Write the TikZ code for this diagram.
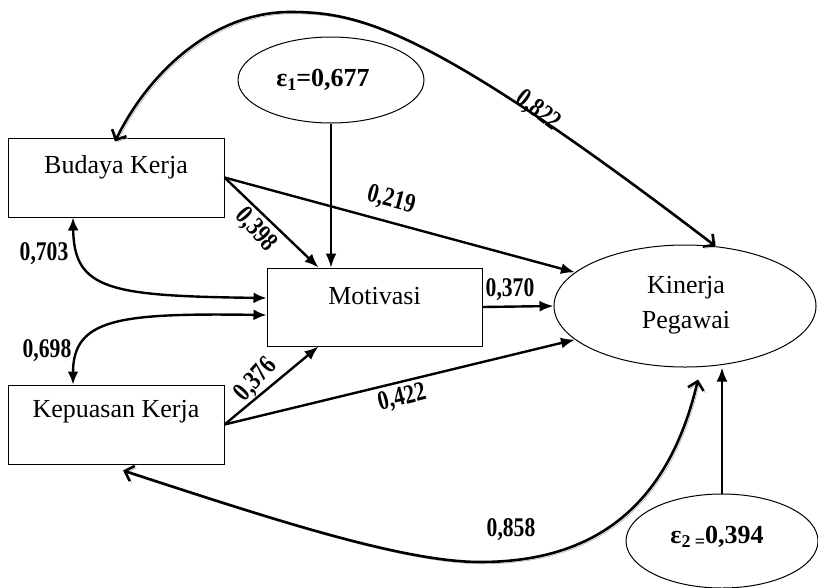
\documentclass[tikz,border=0pt]{standalone}
\usepackage{fontspec}
\setmainfont{Liberation Serif}
\usetikzlibrary{shapes.geometric,arrows.meta,calc}

% condensed bold path coefficient
\newcommand{\coef}[1]{\scalebox{0.8}[1]{\bfseries #1}}
\newcommand{\lowsub}[1]{\raisebox{-4pt}{\fontsize{18}{18}\selectfont #1}}

\begin{document}
\begin{tikzpicture}[x=1pt,y=-1pt,
  box/.style={draw, line width=1pt, minimum width=216pt, minimum height=79pt, inner sep=0pt},
  latent/.style={draw, ellipse, line width=1pt, inner sep=0pt},
  effect/.style={line width=2.4pt, -{Latex[length=14pt,width=11pt]}},
  cov/.style={line width=2.4pt, {Latex[length=13pt,width=11pt]}-{Latex[length=13pt,width=11pt]}},
  longcov/.style={line width=2.6pt, {Straight Barb[length=8pt,width=16pt]}-{Straight Barb[length=8pt,width=16pt]},
    preaction={draw=black!40, transform canvas={shift={(1.8,1.8)}}}},
  coeflabel/.style={font=\fontsize{27}{29}\selectfont, inner sep=0pt},
  vartext/.style={font=\fontsize{26}{35}\selectfont, inner sep=0pt, align=center},
  errtext/.style={font=\fontsize{26}{28}\selectfont\bfseries, inner sep=0pt}]

\useasboundingbox (0,0) rectangle (818,587);
\fill[white] (0,0) rectangle (818,587);

% observed variables
\node[box] (bud) at (116,177.5) {};
\node[box, minimum width=215pt, minimum height=78pt] (mot) at (374.5,307) {};
\node[box] (kep) at (116,424.5) {};
\node[vartext] (budt) at ($(bud.center)+(0,-10)$) {Budaya Kerja};
\node[vartext] (mott) at ($(mot.center)+(0,-11)$) {Motivasi};
\node[vartext] (kept) at ($(kep.center)+(0,-13)$) {Kepuasan Kerja};

% endogenous latent and error terms
\node[latent, minimum width=262pt, minimum height=122pt] (kin) at (685,306) {};
\node[vartext] (kint) at (686,305) {Kinerja\\Pegawai};
\node[latent, minimum width=186pt, minimum height=86pt] (e1) at (331,80) {};
\node[errtext] (e1t) at (323,80) {ε\lowsub{1}=0,677};
\node[latent, minimum width=192pt, minimum height=94pt] (e2) at (722,541) {};
\node[errtext] (e2t) at (717,537) {ε\lowsub{2}\,\lowsub{=}0,394};

% direct effects
\draw[effect, line width=1.8pt] (e1.south) -- (e1.south |- mot.north);
\draw[effect] (bud.east) -- ($(mot.north)+(-56,0)$);
\draw[effect] (bud.east) -- (kin.163);
\draw[effect] (mot.east) -- (kin.west);
\draw[effect] (kep.east) -- ($(mot.south)+(-56,0)$);
\draw[effect] (kep.east) -- (kin.197);
\draw[effect] (e2.north) -- (e2.north |- kin.south);

% correlations
\draw[cov] ($(bud.south)+(-43,0)$) .. controls (74,290) and (110,296) .. ($(mot.west)+(0,-9)$);
\draw[cov] ($(mot.west)+(0,8)$) .. controls (120,313) and (73,318) .. ($(kep.north)+(-43,0)$);
\draw[longcov] ($(bud.north)+(-1,4)$) .. controls (150,70) and (215,12) .. (290,12)
   .. controls (360,12) and (430,28) .. (kin.63);
\draw[longcov] ($(kep.south)+(7,6)$) .. controls (260,515) and (400,562) .. (480,562)
   .. controls (580,562) and (665,520) .. ($(kin.south)+(13,12)$);

% coefficients
\node[coeflabel, rotate=-37] (c822) at (538,111) {\coef{0,822}};
\node[coeflabel, rotate=-15] (c219) at (391,200) {\coef{0,219}};
\node[coeflabel, rotate=-48] (c398) at (256,230) {\coef{0,398}};
\node[coeflabel] (c703) at (44,254) {\coef{0,703}};
\node[coeflabel] (c370) at (510,290) {\coef{0,370}};
\node[coeflabel] (c698) at (47,351) {\coef{0,698}};
\node[coeflabel, rotate=48] (c376) at (256,380) {\coef{0,376}};
\node[coeflabel, rotate=14] (c422) at (402,398) {\coef{0,422}};
\node[coeflabel] (c858) at (511,530) {\coef{0,858}};
\end{tikzpicture}
\end{document}
